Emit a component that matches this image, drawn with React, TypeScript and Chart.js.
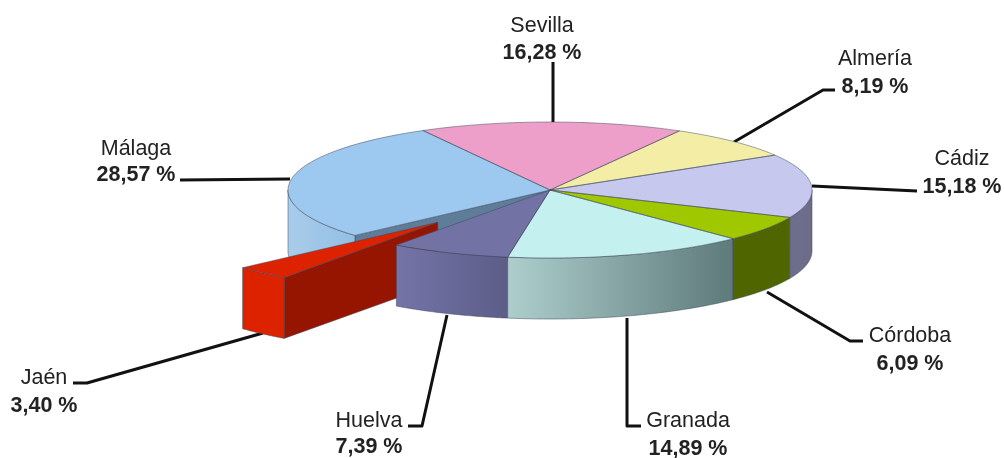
import React, { useEffect, useRef } from "react";
import Chart from "chart.js/auto";

// ---- data ----
const categories = ["Sevilla", "Almería", "Cádiz", "Córdoba", "Granada", "Huelva", "Jaén", "Málaga"];
const shares = [16.28, 8.19, 15.18, 6.09, 14.89, 7.39, 3.4, 28.57];
const explode = [0, 0, 0, 0, 0, 0, 0.64, 0];

// ---- styles ----
const topColors = ["#EE9FC9", "#F3EDA6", "#C7C8EE", "#A0C800", "#C5F0F0", "#7272A5", "#DD2200", "#9DC8EF"];
const wallLeft = ["#C080A0", "#C4BF85", "#6D6D8E", "#4F6600", "#AECECE", "#7474A8", "#DD2200", "#A9CCEB"];
const wallRight = ["#C080A0", "#C4BF85", "#6D6D8A", "#4F6600", "#5E7A7A", "#5D5D88", "#DD2200", "#93BFE4"];
const cutColors = ["#000", "#000", "#000", "#000", "#000", "#000", "#951500", "#5F7D98"];

// ---- layout ----
const W = 1004;
const H = 458;
const CX = 550;
const CY = 190;
const RX = 262;
const RY = 68;
const DEPTH = 61;
const RADIUS = 200;
const START_ROTATION = -29;
const EDGE = "rgba(62,72,92,0.5)";
const FONT = '"Liberation Sans", Arial, sans-serif';

// label anchors: [centre x, name baseline, value baseline]
const labelAnchors = [
  [542, 32, 59],
  [875, 65, 93],
  [962, 165, 193],
  [910, 342, 370],
  [688, 427, 455],
  [369, 427, 453],
  [44, 384, 412],
  [136, 155, 181],
];
const leaderPaths = [
  [[553, 62], [553, 123]],
  [[835, 90], [823, 90], [734, 142]],
  [[917, 191], [812, 186]],
  [[863, 341], [850, 341], [767, 292]],
  [[641, 426], [627, 426], [627, 318]],
  [[408, 426], [422, 426], [447, 315]],
  [[73, 383], [87, 383], [263, 333]],
  [[180, 180], [290, 179]],
];

const shift = (arc: any, i: number) => {
  const mid = (arc.startAngle + arc.endAngle) / 2;
  return { ox: Math.cos(mid) * explode[i] * RX, oy: Math.sin(mid) * explode[i] * RY };
};
const pt = (arc: any, i: number, a: number, drop: number) => {
  const { ox, oy } = shift(arc, i);
  return [CX + ox + RX * Math.cos(a), CY + oy + RY * Math.sin(a) + drop];
};

const pie3d = {
  id: "pie3d",
  beforeDatasetsDraw(chart: any) {
    const ctx = chart.ctx;
    ctx.save();
    ctx.strokeStyle = "#111";
    ctx.lineWidth = 3;
    ctx.lineJoin = "round";
    ctx.lineCap = "butt";
    leaderPaths.forEach((p) => {
      ctx.beginPath();
      p.forEach(([x, y], k) => (k ? ctx.lineTo(x, y) : ctx.moveTo(x, y)));
      ctx.stroke();
    });
    ctx.restore();
  },
  beforeDatasetDraw(chart: any, args: any) {
    const ctx = chart.ctx;
    const arcs = args.meta.data;
    const n = arcs.length;
    const two = Math.PI * 2;
    ctx.save();
    ctx.lineWidth = 1;
    ctx.strokeStyle = EDGE;
    for (let i = n - 1; i >= 0; i--) {
      const arc = arcs[i];
      let s = arc.startAngle;
      let e = arc.endAngle;
      while (s < -Math.PI) { s += two; e += two; }
      while (s >= Math.PI) { s -= two; e -= two; }
      const { ox, oy } = shift(arc, i);
      // the radial cut shows on an exploded slice and on the slice uncovered by it
      if (explode[i] > 0 || explode[(i - 1 + n) % n] > 0) {
        const a = pt(arc, i, arc.startAngle, 0);
        const b = pt(arc, i, arc.startAngle, DEPTH);
        ctx.fillStyle = cutColors[i];
        ctx.beginPath();
        ctx.moveTo(CX + ox, CY + oy);
        ctx.lineTo(a[0], a[1]);
        ctx.lineTo(b[0], b[1]);
        ctx.lineTo(CX + ox, CY + oy + DEPTH);
        ctx.closePath();
        ctx.fill();
        ctx.stroke();
      }
      // outer rim, front half only
      [[0, Math.PI], [two, two + Math.PI]].forEach(([lo, hi]) => {
        const from = Math.max(s, lo);
        const to = Math.min(e, hi);
        if (to <= from) return;
        const x1 = pt(arc, i, from, 0)[0];
        const x2 = pt(arc, i, to, 0)[0];
        const grad = ctx.createLinearGradient(Math.min(x1, x2), 0, Math.max(x1, x2), 0);
        grad.addColorStop(0, wallLeft[i]);
        grad.addColorStop(1, wallRight[i]);
        ctx.fillStyle = grad;
        ctx.beginPath();
        const steps = 48;
        for (let k = 0; k <= steps; k++) {
          const p = pt(arc, i, from + ((to - from) * k) / steps, 0);
          k ? ctx.lineTo(p[0], p[1]) : ctx.moveTo(p[0], p[1]);
        }
        for (let k = steps; k >= 0; k--) {
          const p = pt(arc, i, from + ((to - from) * k) / steps, DEPTH);
          ctx.lineTo(p[0], p[1]);
        }
        ctx.closePath();
        ctx.fill();
        ctx.stroke();
      });
    }
    ctx.restore();

    // squash the library's own arcs into the tilted disc
    const cx0 = chart.chartArea.left + chart.chartArea.width / 2;
    const cy0 = chart.chartArea.top + chart.chartArea.height / 2;
    arcs.forEach((arc: any, i: number) => {
      const mid = (arc.startAngle + arc.endAngle) / 2;
      arc.x = cx0 + Math.cos(mid) * explode[i] * arc.outerRadius;
      arc.y = cy0 + Math.sin(mid) * explode[i] * arc.outerRadius;
    });
    const R = arcs[0].outerRadius;
    ctx.save();
    ctx.translate(CX, CY);
    ctx.scale(RX / R, RY / R);
    ctx.translate(-cx0, -cy0);
  },
  afterDatasetDraw(chart: any, args: any) {
    const ctx = chart.ctx;
    ctx.restore();
    const arcs = args.meta.data;
    ctx.save();
    ctx.lineWidth = 1;
    ctx.strokeStyle = EDGE;
    arcs.forEach((arc: any, i: number) => {
      const { ox, oy } = shift(arc, i);
      ctx.beginPath();
      ctx.moveTo(CX + ox, CY + oy);
      const steps = 48;
      for (let k = 0; k <= steps; k++) {
        const p = pt(arc, i, arc.startAngle + ((arc.endAngle - arc.startAngle) * k) / steps, 0);
        ctx.lineTo(p[0], p[1]);
      }
      ctx.closePath();
      ctx.stroke();
    });
    ctx.restore();
  },
  afterDatasetsDraw(chart: any) {
    const ctx = chart.ctx;
    ctx.save();
    ctx.textAlign = "center";
    ctx.textBaseline = "alphabetic";
    ctx.fillStyle = "#222";
    categories.forEach((name, i) => {
      const [x, y1, y2] = labelAnchors[i];
      ctx.font = `21.5px ${FONT}`;
      ctx.fillText(name, x, y1);
      ctx.font = `bold 21.5px ${FONT}`;
      ctx.fillText(`${shares[i].toFixed(2).replace(".", ",")} %`, x, y2);
    });
    ctx.restore();
  },
};

export default function App() {
  const ref = useRef<HTMLCanvasElement>(null);
  useEffect(() => {
    if (!ref.current) return;
    const chart = new Chart(ref.current, {
      type: "pie",
      data: {
        labels: categories,
        datasets: [
          {
            data: shares,
            backgroundColor: topColors,
            borderWidth: 0,
            clip: false,
          } as any,
        ],
      },
      options: {
        responsive: false,
        animation: false,
        events: [],
        rotation: START_ROTATION,
        radius: RADIUS,
        layout: { padding: 0 },
        plugins: { legend: { display: false }, tooltip: { enabled: false } },
      } as any,
      plugins: [pie3d],
    });
    return () => chart.destroy();
  }, []);
  return (
    <div style={{ position: "absolute", left: 0, top: 0, width: W, height: H, background: "#fff" }}>
      <canvas ref={ref} width={W} height={H} style={{ display: "block", width: W, height: H }} />
    </div>
  );
}
